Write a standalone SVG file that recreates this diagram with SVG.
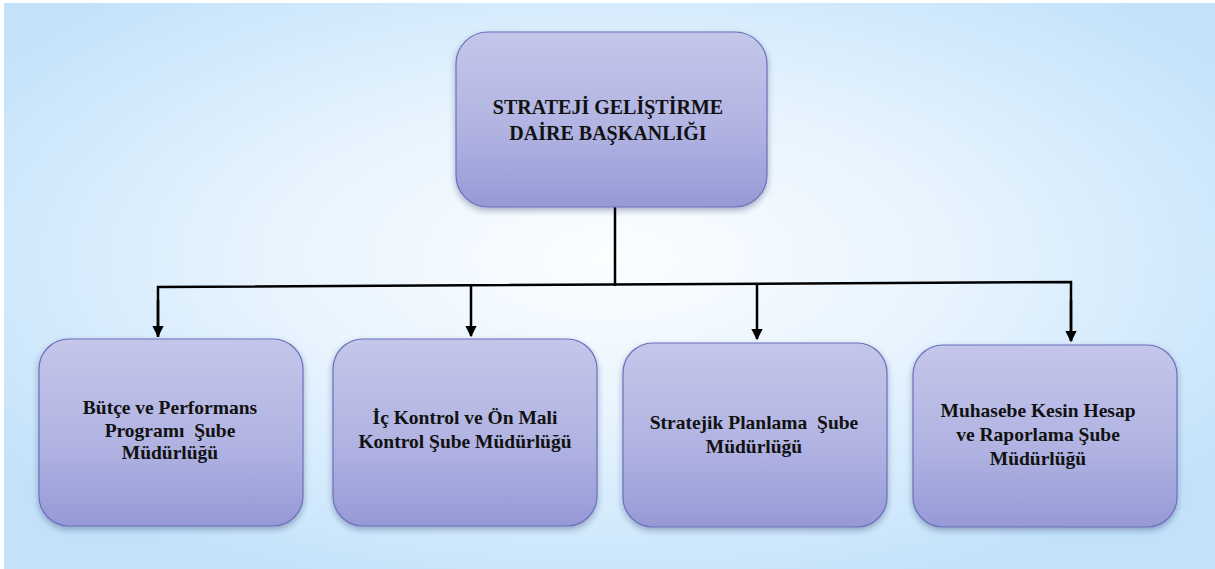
<svg xmlns="http://www.w3.org/2000/svg" width="1215" height="569" viewBox="0 0 1215 569">
<defs>
<radialGradient id="bg" cx="50%" cy="45%" r="62%" fx="50%" fy="45%">
<stop offset="0" stop-color="#fcfeff"/>
<stop offset="0.45" stop-color="#e8f4fe"/>
<stop offset="1" stop-color="#c3e2fa"/>
</radialGradient>
<linearGradient id="box" x1="0" y1="0" x2="0" y2="1">
<stop offset="0" stop-color="#c4c6ea"/>
<stop offset="0.55" stop-color="#b1b4e2"/>
<stop offset="1" stop-color="#9799d6"/>
</linearGradient>
<filter id="sh" x="-10%" y="-10%" width="120%" height="130%">
<feDropShadow dx="0" dy="3" stdDeviation="3" flood-color="#1a2a60" flood-opacity="0.35"/>
</filter>
<marker id="arr" viewBox="0 0 10 10" refX="9" refY="5" markerWidth="5" markerHeight="4.5" orient="auto" markerUnits="strokeWidth">
<path d="M0,0 L10,5 L0,10 z" fill="#000"/>
</marker>
</defs>
<style>
.node rect{fill:url(#box);stroke:#6b70bb;stroke-width:1.2;filter:url(#sh)}
.t1,.t2{font-family:'Liberation Serif','DejaVu Serif',serif;font-weight:bold;fill:#111;text-anchor:middle;white-space:pre}
.t1{font-size:20px}
.t2{font-size:19.5px}
.conn{stroke:#000;stroke-width:2.5;fill:none}
</style>
<rect x="0" y="0" width="1215" height="569" fill="#ffffff"/>
<rect x="4" y="3" width="1211" height="566" fill="url(#bg)"/>

<g id="connectors">
<line class="conn" x1="615" y1="207" x2="615" y2="286"/>
<polyline class="conn" points="158,337 158,287 1071,282 1071,341"/>
<line class="conn" x1="158" y1="300" x2="158" y2="336" marker-end="url(#arr)"/>
<line class="conn" x1="471" y1="286" x2="471" y2="336" marker-end="url(#arr)"/>
<line class="conn" x1="757" y1="284" x2="757" y2="339" marker-end="url(#arr)"/>
<line class="conn" x1="1071" y1="300" x2="1071" y2="341" marker-end="url(#arr)"/>
</g>

<g id="top" class="node">
<rect x="456" y="32" width="311" height="175" rx="32"/>
<text class="t1" x="608" y="114">STRATEJİ GELİŞTİRME</text>
<text class="t1" x="608" y="140">DAİRE BAŞKANLIĞI</text>
</g>

<g id="n1" class="node">
<rect x="39" y="339" width="264" height="187" rx="30"/>
<text class="t2" x="170" y="414">Bütçe ve Performans</text>
<text class="t2" x="170" y="437" xml:space="preserve">Programı  Şube</text>
<text class="t2" x="170" y="459">Müdürlüğü</text>
</g>

<g id="n2" class="node">
<rect x="333" y="339" width="264" height="187" rx="30"/>
<text class="t2" x="465" y="424">İç Kontrol ve Ön Mali</text>
<text class="t2" x="465" y="448">Kontrol Şube Müdürlüğü</text>
</g>

<g id="n3" class="node">
<rect x="623" y="343" width="264" height="184" rx="30"/>
<text class="t2" x="754" y="429" xml:space="preserve">Stratejik Planlama  Şube</text>
<text class="t2" x="754" y="453">Müdürlüğü</text>
</g>

<g id="n4" class="node">
<rect x="913" y="345" width="264" height="182" rx="30"/>
<text class="t2" x="1038" y="417">Muhasebe Kesin Hesap</text>
<text class="t2" x="1038" y="441">ve Raporlama Şube</text>
<text class="t2" x="1038" y="465">Müdürlüğü</text>
</g>
</svg>
